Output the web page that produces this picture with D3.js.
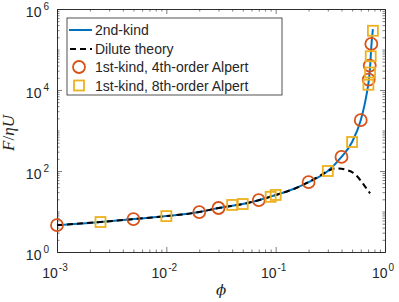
<!DOCTYPE html>
<html>
<head>
<meta charset="utf-8">
<script src="https://cdn.jsdelivr.net/npm/d3@7"></script>
<style>
body { margin: 0; background: #fff; }
text { font-family: "Liberation Sans", Arial, sans-serif; fill: #262626; }
</style>
</head>
<body>
<div id="chart"></div>
<script>
// DATA
const secondKindPhi = [0.001, 0.0025, 0.005, 0.01, 0.02, 0.03, 0.05, 0.07, 0.1, 0.15, 0.2, 0.3, 0.4, 0.5, 0.6, 0.65, 0.68, 0.705, 0.73, 0.75, 0.775];
const secondKindF   = [4.6, 5.5, 6.5, 7.7, 9.7, 12.2, 15.3, 19, 25.5, 37, 53, 100, 222, 520, 1800, 4300, 8000, 14500, 36000, 120000, 320000];

const dilutePhi = [0.001, 0.0025, 0.005, 0.01, 0.02, 0.03, 0.05, 0.07, 0.1, 0.15, 0.2, 0.25, 0.3, 0.35, 0.4, 0.45, 0.5, 0.55, 0.6, 0.65, 0.7, 0.73];
const diluteF   = [4.6, 5.5, 6.5, 7.7, 9.7, 12.2, 15.3, 19, 25.5, 37, 53, 75, 100, 116, 114, 105, 94, 76, 58, 43, 33, 28];

const alpert4Phi = [0.001, 0.005, 0.02, 0.03, 0.07, 0.2, 0.4, 0.6, 0.71, 0.725, 0.75];
const alpert4F   = [4.6, 6.5, 9.7, 12.2, 19, 53, 222, 1800, 18000, 40000, 137000];

const alpert8Phi = [0.0025, 0.01, 0.04, 0.05, 0.09, 0.1, 0.3, 0.5, 0.705, 0.73, 0.74, 0.775];
const alpert8F   = [5.5, 7.7, 14.5, 15.3, 23, 25.6, 100, 520, 13500, 27000, 68000, 290000];

const xTicks = [1e-3, 1e-2, 1e-1, 1e0];
const yTicks = [1e0, 1e2, 1e4, 1e6];
const legendLabels = ["2nd-kind", "Dilute theory", "1st-kind, 4th-order Alpert", "1st-kind, 8th-order Alpert"];

// SET GLOBAL VARIABLES
const margin = { top: 9, right: 14, bottom: 50, left: 57 };
const width = 399 - margin.left - margin.right;
const height = 302 - margin.top - margin.bottom;

const svg = d3.select("#chart")
    .append("svg")
    .attr("width", 399)
    .attr("height", 302)
    .append("g")
    .attr("transform", `translate(${margin.left},${margin.top})`);

const x = d3.scaleLog().domain([1e-3, 1]).range([0, width]);
const y = d3.scaleLog().domain([1, 1e6]).range([height, 0]);

// minor ticks: 2..9 in each decade, plus unlabeled decades on y
const xMinor = [];
for (let e = -3; e < 0; e++) for (let m = 2; m <= 9; m++) xMinor.push(m * Math.pow(10, e));
const yMinor = [];
for (let e = 0; e < 6; e++) for (let m = 2; m <= 9; m++) yMinor.push(m * Math.pow(10, e));
const yMid = [1e1, 1e3, 1e5];

const axisColor = "#262626";
function styleAxis(g) {
    g.select(".domain").attr("stroke", axisColor).attr("stroke-width", 0.8);
    g.selectAll(".tick line").attr("stroke", axisColor).attr("stroke-width", 0.6);
    g.selectAll(".tick text").remove();
}

// Draw axes (ticks inward, box on)
svg.append("g").attr("transform", `translate(0,${height})`)
    .call(d3.axisBottom(x).tickValues(xTicks).tickSize(-5).tickSizeOuter(0)).call(styleAxis);
svg.append("g").attr("transform", `translate(0,${height})`)
    .call(d3.axisBottom(x).tickValues(xMinor).tickSize(-2.5).tickSizeOuter(0)).call(styleAxis);
svg.append("g")
    .call(d3.axisTop(x).tickValues(xTicks).tickSize(-5).tickSizeOuter(0)).call(styleAxis);
svg.append("g")
    .call(d3.axisTop(x).tickValues(xMinor).tickSize(-2.5).tickSizeOuter(0)).call(styleAxis);

svg.append("g")
    .call(d3.axisLeft(y).tickValues(yTicks).tickSize(-5).tickSizeOuter(0)).call(styleAxis);
svg.append("g")
    .call(d3.axisLeft(y).tickValues(yMinor.concat(yMid)).tickSize(-2.5).tickSizeOuter(0)).call(styleAxis);
svg.append("g").attr("transform", `translate(${width},0)`)
    .call(d3.axisRight(y).tickValues(yTicks).tickSize(-5).tickSizeOuter(0)).call(styleAxis);
svg.append("g").attr("transform", `translate(${width},0)`)
    .call(d3.axisRight(y).tickValues(yMinor.concat(yMid)).tickSize(-2.5).tickSizeOuter(0)).call(styleAxis);

// Tick labels with superscripts
xTicks.forEach(t => {
    const txt = svg.append("text")
        .attr("x", x(t) - 2)
        .attr("y", height + 26)
        .attr("text-anchor", "middle")
        .style("font-size", "14px");
    txt.append("tspan").text("10");
    txt.append("tspan").attr("dy", -7).attr("dx", 1).style("font-size", "10px").text(Math.round(Math.log10(t)));
});
yTicks.forEach(t => {
    const txt = svg.append("text")
        .attr("x", -8)
        .attr("y", y(t) + 8)
        .attr("text-anchor", "end")
        .style("font-size", "14px");
    txt.append("tspan").text("10");
    txt.append("tspan").attr("dy", -7).attr("dx", 2).style("font-size", "10px").text(Math.round(Math.log10(t)));
});

// Axis labels
svg.append("text")
    .attr("x", width / 2 + 0)
    .attr("y", height + 43)
    .attr("text-anchor", "middle")
    .style("font-family", "'DejaVu Serif', serif")
    .style("font-style", "italic")
    .style("font-size", "15px")
    .text("ϕ");

const yl = svg.append("text")
    .attr("transform", `translate(${14 - margin.left},${133 - margin.top}) rotate(-90)`)
    .attr("text-anchor", "middle")
    .style("font-family", "'Liberation Serif', serif")
    .style("font-size", "17px");
yl.append("tspan").style("font-style", "italic").text("F");
yl.append("tspan").text("/");
yl.append("tspan").style("font-style", "italic").text("ηU");

// Lines
const line = d3.line().x(d => x(d[0])).y(d => y(d[1])).curve(d3.curveMonotoneX);
const secondKind = secondKindPhi.map((p, i) => [p, secondKindF[i]]);
const dilute = dilutePhi.map((p, i) => [p, diluteF[i]]);

svg.append("path")
    .datum(secondKind)
    .attr("fill", "none")
    .attr("stroke", "#0072BD")
    .attr("stroke-width", 2)
    .attr("d", line);

svg.append("path")
    .datum(dilute)
    .attr("fill", "none")
    .attr("stroke", "#000")
    .attr("stroke-width", 2)
    .attr("stroke-dasharray", "6,4")
    .attr("d", line);

// Markers
svg.selectAll(".c4")
    .data(alpert4Phi.map((p, i) => [p, alpert4F[i]]))
    .join("circle")
    .attr("cx", d => x(d[0]))
    .attr("cy", d => y(d[1]))
    .attr("r", 6)
    .attr("fill", "none")
    .attr("stroke", "#D95319")
    .attr("stroke-width", 1.8);

svg.selectAll(".s8")
    .data(alpert8Phi.map((p, i) => [p, alpert8F[i]]))
    .join("rect")
    .attr("x", d => x(d[0]) - 5)
    .attr("y", d => y(d[1]) - 5)
    .attr("width", 10)
    .attr("height", 10)
    .attr("fill", "none")
    .attr("stroke", "#EDB120")
    .attr("stroke-width", 1.8);

// Legend
const lg = svg.append("g").attr("transform", `translate(${67 - margin.left},${18 - margin.top})`);
lg.append("rect")
    .attr("width", 215).attr("height", 77)
    .attr("fill", "#fff").attr("stroke", axisColor).attr("stroke-width", 0.8);
const rowY = [12, 31, 49, 67.5];
lg.append("line").attr("x1", 2).attr("x2", 25).attr("y1", rowY[0]).attr("y2", rowY[0])
    .attr("stroke", "#0072BD").attr("stroke-width", 2);
lg.append("line").attr("x1", 2).attr("x2", 25).attr("y1", rowY[1]).attr("y2", rowY[1])
    .attr("stroke", "#000").attr("stroke-width", 2).attr("stroke-dasharray", "6,4")
    .attr("stroke-dashoffset", -1);
lg.append("circle").attr("cx", 12).attr("cy", rowY[2]).attr("r", 6)
    .attr("fill", "none").attr("stroke", "#D95319").attr("stroke-width", 1.8);
lg.append("rect").attr("x", 7).attr("y", rowY[3] - 5).attr("width", 10).attr("height", 10)
    .attr("fill", "none").attr("stroke", "#EDB120").attr("stroke-width", 1.8);
legendLabels.forEach((l, i) => {
    lg.append("text")
        .attr("x", 28)
        .attr("y", rowY[i] + 5)
        .style("font-size", "14px")
        .text(l);
});
</script>
</body>
</html>
